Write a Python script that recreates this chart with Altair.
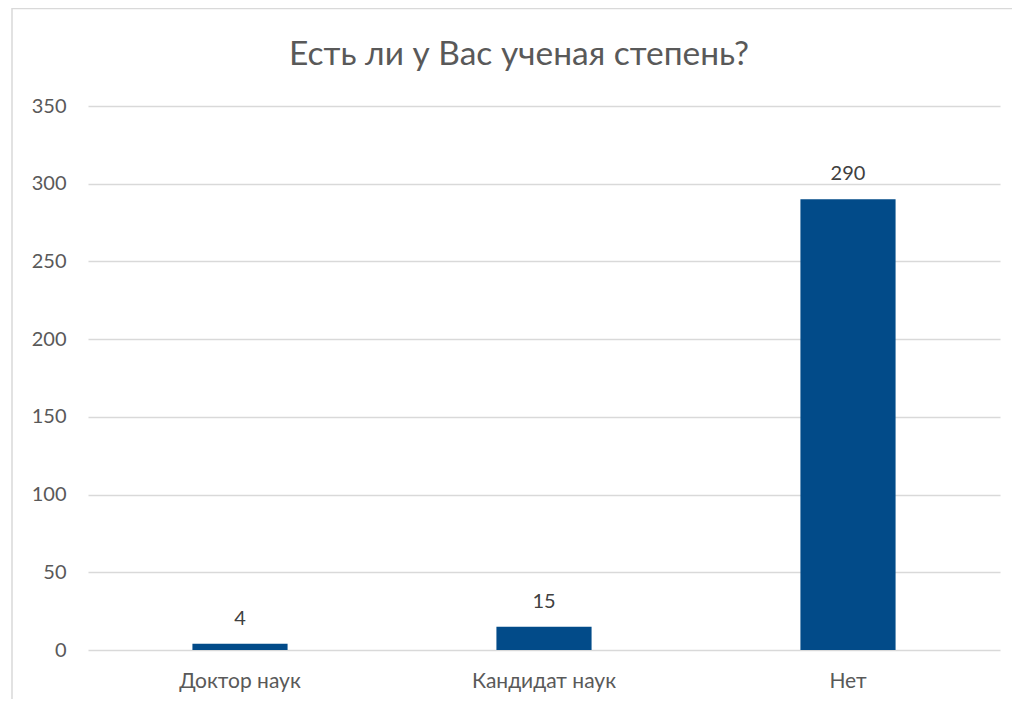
import altair as alt
import pandas as pd

categories = ["Доктор наук", "Кандидат наук", "Нет"]
values = [4, 15, 290]
title_text = "Есть ли у Вас ученая степень?"
y_ticks = [0, 50, 100, 150, 200, 250, 300, 350]

df = pd.DataFrame({"cat": categories, "val": values})

FONT = "Lato"
GREY = "#595959"
BAR = "#024B89"

x_enc = alt.X("cat:N", sort=categories, title=None,
              scale=alt.Scale(paddingInner=0.687, paddingOuter=0.3435),
              axis=alt.Axis(labelAngle=0, domain=False, ticks=False, grid=False,
                            labelFontSize=21, labelColor=GREY, labelFont=FONT,
                            labelPadding=20))
y_enc = alt.Y("val:Q", title=None,
              scale=alt.Scale(domain=[0, 350], nice=False),
              axis=alt.Axis(values=y_ticks, domain=False, ticks=False,
                            labelFontSize=20, labelColor=GREY, labelFont=FONT,
                            labelPadding=22, gridColor="#d9d9d9", gridWidth=1.5))

one = pd.DataFrame({"k": [0]})

border = alt.Chart(one).mark_rect(
    fill=None, stroke="#d9d9d9", strokeWidth=1.5
).encode(x=alt.value(-76), x2=alt.value(960), y=alt.value(-97.5), y2=alt.value(620))

title = alt.Chart(one).mark_text(
    fontSize=33.5, color=GREY, font=FONT, baseline="alphabetic", align="center"
).encode(x=alt.value(431), y=alt.value(-41), text=alt.value(title_text))

bars = alt.Chart(df).mark_bar(color=BAR).encode(x=x_enc, y=y_enc)

labels = alt.Chart(df).mark_text(
    dy=-19, fontSize=20, color="#404040", font=FONT, baseline="alphabetic"
).encode(x=alt.X("cat:N", sort=categories), y="val:Q", text="val:Q")

chart = alt.layer(border, title, bars, labels).properties(
    width=912, height=544,
    autosize=alt.AutoSizeParams(type="none"),
    padding={"left": 80, "top": 98, "right": 12, "bottom": 49},
    background="white",
).configure_view(strokeWidth=0, stroke="transparent")

chart.save("out.html", embed_options={"renderer": "svg", "actions": False})
